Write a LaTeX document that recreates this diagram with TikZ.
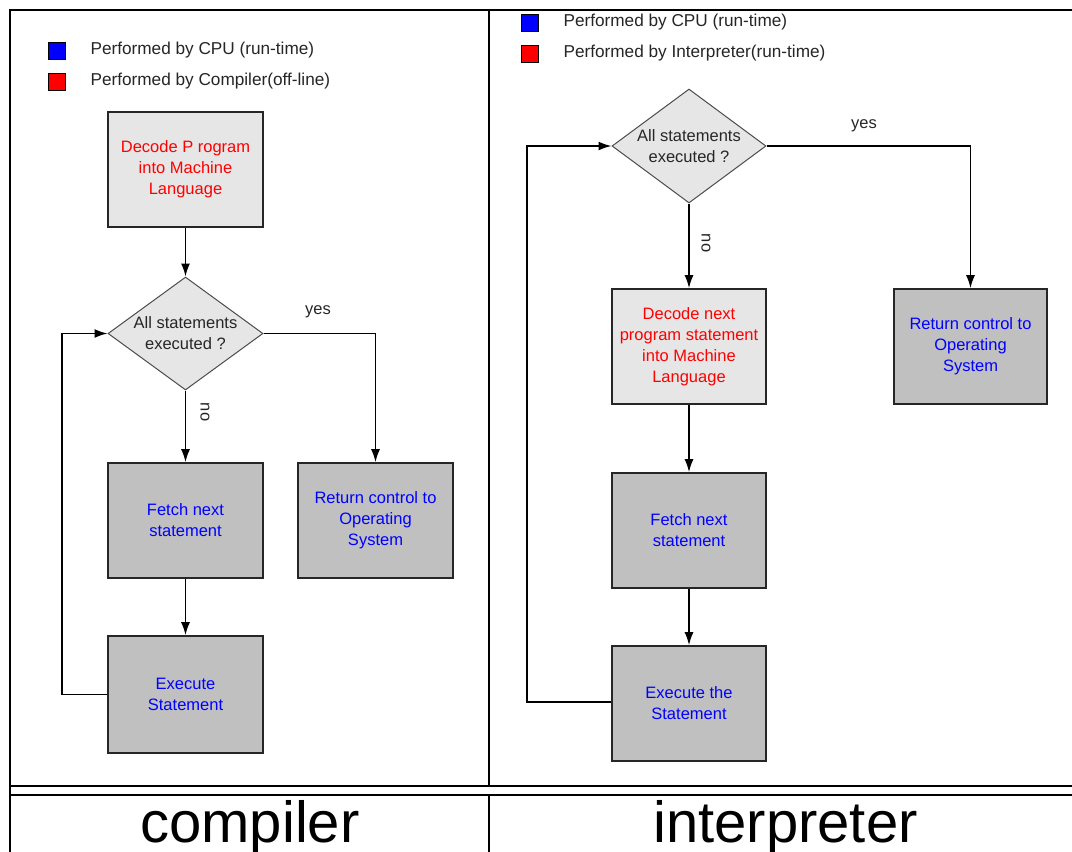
\documentclass[tikz,border=0pt]{standalone}
\usepackage{fontspec}
\setmainfont{Liberation Sans}
\usetikzlibrary{shapes.geometric,arrows.meta}
\definecolor{boxlight}{HTML}{E6E6E6}
\definecolor{boxdark}{HTML}{C0C0C0}
\definecolor{txtred}{HTML}{FF0000}
\definecolor{txtblue}{HTML}{0000FF}
\tikzset{
  procbox/.style={rectangle, draw=black!85, line width=1.6pt, minimum width=155pt,
    minimum height=115pt, inner sep=0pt, align=center,
    font=\fontsize{16.5}{21}\selectfont},
  offline/.style={procbox, fill=boxlight, text=txtred},
  runtime/.style={procbox, fill=boxdark, text=txtblue},
  decision/.style={diamond, draw=black!70, line width=1pt, fill=boxlight,
    minimum width=155pt, minimum height=113pt, inner sep=0pt},
  qtext/.style={align=center, font=\fontsize{16.5}{21}\selectfont, text=black!85},
  flow/.style={line width=1.6pt, -{Latex[length=13pt,width=9pt]}},
  lbl/.style={font=\fontsize{16.5}{20}\selectfont, text=black!85},
  keybox/.style={rectangle, draw=black, line width=1pt, minimum size=17pt, inner sep=0pt},
  keytext/.style={anchor=west, font=\fontsize{17.2}{20}\selectfont, text=black!85},
  frame/.style={line width=1.4pt},
  caption/.style={anchor=base, font=\fontsize{58}{58}\selectfont}
}
\begin{document}
\begin{tikzpicture}[x=1pt, y=-1pt]
\useasboundingbox (0,0) rectangle (1072,852);
\fill[white] (0,0) rectangle (1072,852);

% outer frames
\draw[frame] (10,852) -- (10,10) -- (1072,10);
\draw[frame] (10,786) -- (1072,786);
\draw[frame] (489,10) -- (489,786);
\draw[frame] (10,852) -- (10,795) -- (1072,795);
\draw[frame] (489,795) -- (489,852);

% captions
\node[caption] (capc) at (250,842) {compiler};
\node[caption] (capi) at (785.5,842) {interpreter};

% ---------------- compiler ----------------
\node[keybox, fill=blue] (k1a) at (56.5,50.5) {};
\node[keytext] (k1at) at (87,50.5) {Performed by CPU (run-time)};
\node[keybox, fill=red] (k1b) at (56.5,81.5) {};
\node[keytext] (k1bt) at (87,81.5) {Performed by Compiler(off-line)};

\node[offline] (dec1) at (185.5,169.5) {Decode P rogram\\into Machine\\Language};
\node[decision] (q1) at (185.5,333.5) {};
\node[qtext] (q1t) at (q1.center) {All statements\\executed ?};
\node[runtime] (fetch1) at (185.5,520.5) {Fetch next\\statement};
\node[runtime, minimum height=117pt] (exec1) at (185.5,694.5) {Execute\\Statement};
\node[runtime] (ret1) at (375.5,520.5) {Return control to\\Operating\\System};
\coordinate (loop1) at (62,694.5);

\draw[flow] (dec1) -- (q1);
\draw[flow] (q1) -- (fetch1);
\draw[flow] (q1.east) -| (ret1.north);
\draw[flow] (fetch1) -- (exec1);
\draw[flow] (exec1.west) -- (loop1) |- (q1.west);
\node[lbl] (yes1) at (318,312) {yes};
\node[lbl, rotate=-90] (no1) at (205,412) {no};

% ---------------- interpreter ----------------
\node[keybox, fill=blue] (k2a) at (529.5,22.5) {};
\node[keytext] (k2at) at (560,22.5) {Performed by CPU (run-time)};
\node[keybox, fill=red] (k2b) at (529.5,53.5) {};
\node[keytext] (k2bt) at (560,53.5) {Performed by Interpreter(run-time)};

\node[decision, minimum width=154pt, minimum height=114pt] (q2) at (689,146) {};
\node[qtext] (q2t) at (q2.center) {All statements\\executed ?};
\node[offline, minimum width=154pt] (dec2) at (689,346.5) {Decode next\\program statement\\into Machine\\Language};
\node[runtime, minimum width=154pt] (fetch2) at (689,530.5) {Fetch next\\statement};
\node[runtime, minimum width=154pt] (exec2) at (689,703.5) {Execute the\\Statement};
\node[runtime, minimum width=153pt] (ret2) at (970.5,346.5) {Return control to\\Operating\\System};
\coordinate (loop2) at (527,702);

\draw[flow] (q2) -- (dec2);
\draw[flow] (q2.east) -| (ret2.north);
\draw[flow] (dec2) -- (fetch2);
\draw[flow] (fetch2) -- (exec2);
\draw[flow] (exec2.west |- loop2) -- (loop2) |- (q2.west);
\node[lbl] (yes2) at (864,126) {yes};
\node[lbl, rotate=-90] (no2) at (706,243) {no};
\end{tikzpicture}
\end{document}
